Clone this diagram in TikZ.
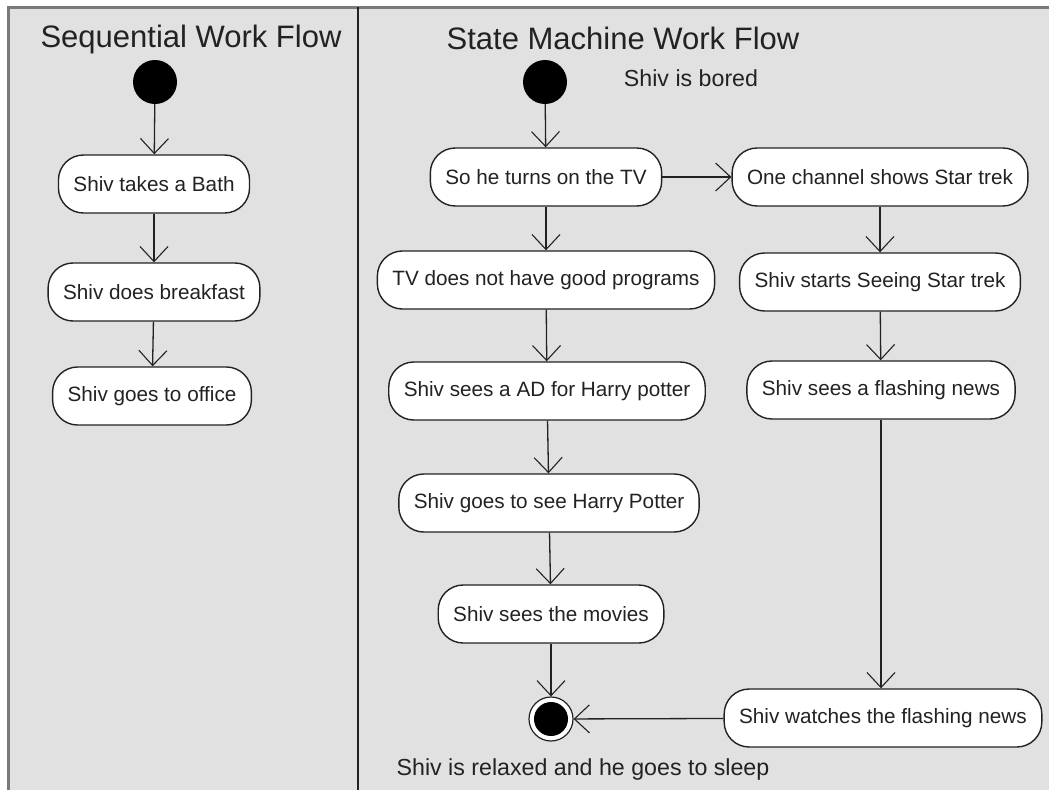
\documentclass[tikz,border=0pt]{standalone}
\usepackage{fontspec}
\setmainfont{Liberation Sans}
\usetikzlibrary{arrows.meta}
\definecolor{bgc}{HTML}{E1E1E1}
\definecolor{framec}{HTML}{7A7A7A}
\definecolor{ink}{HTML}{222222}
\begin{document}
\begin{tikzpicture}[x=1pt,y=-1pt,
  act/.style={draw=ink, line width=1.4pt, fill=white, rounded corners=25pt,
    minimum height=58pt, inner xsep=15pt, text=ink,
    font=\fontsize{20.7}{24}\selectfont},
  startdot/.style={circle, fill=black, minimum size=44pt, inner sep=0pt},
  flow/.style={draw=ink, line width=1.3pt, -{Straight Barb[length=15pt,width=28pt,line width=1.1pt]}},
  title/.style={text=ink, font=\fontsize{31}{36}\selectfont},
  lbl/.style={text=ink, font=\fontsize{23.2}{27}\selectfont}]
\useasboundingbox (0,0) rectangle (1049,790);
\fill[bgc] (8,7) rectangle (1049,790);
\draw[framec, line width=3pt] (8,790) -- (8,7) -- (1049,7);
\draw[ink, line width=2pt] (358,7) -- (358,790);

% left panel
\node[title] (t1) at (191,39) {Sequential Work Flow};
\node[startdot] (s1) at (155,82) {};
\node[act] (a1) at (154,184) {Shiv takes a Bath};
\node[act] (a2) at (154,292) {Shiv does breakfast};
\node[act] (a3) at (152,396) {Shiv goes to office};
\draw[flow] (s1) -- (a1);
\draw[flow] (a1) -- (a2);
\draw[flow] (a2) -- (a3);

% right panel
\node[title] (t2) at (623,38) {State Machine Work Flow};
\node[startdot] (s2) at (545,82) {};
\node[lbl] (bored) at (691,78) {Shiv is bored};
\node[act] (b) at (546,177) {So he turns on the TV};
\node[act] (c) at (880,177) {One channel shows Star trek};
\node[act] (d) at (546,280) {TV does not have good programs};
\node[act] (e) at (547,391) {Shiv sees a AD for Harry potter};
\node[act] (f) at (549,503) {Shiv goes to see Harry Potter};
\node[act] (g) at (551,614) {Shiv sees the movies};
\node[act] (i) at (880,282) {Shiv starts Seeing Star trek};
\node[act] (j) at (881,390) {Shiv sees a flashing news};
\node[act] (h) at (883,718) {Shiv watches the flashing news};
\node[circle, draw=ink, line width=1.2pt, fill=white, minimum size=44pt, inner sep=0pt] (end) at (551,719) {};
\fill[black] (end.center) circle (17pt);
\node[lbl] (relaxed) at (583,769) {Shiv is relaxed and he goes to sleep};

\draw[flow] (s2) -- (b);
\draw[flow] (b) -- (c);
\draw[flow] (b) -- (d);
\draw[flow] (d) -- (e);
\draw[flow] (e) -- (f);
\draw[flow] (f) -- (g);
\draw[flow] (g) -- (end);
\draw[flow] (c) -- (i);
\draw[flow] (i) -- (j);
\draw[flow] (j.south) -- (j.south |- h.north);
\draw[flow] (h) -- (end);
\end{tikzpicture}
\end{document}
